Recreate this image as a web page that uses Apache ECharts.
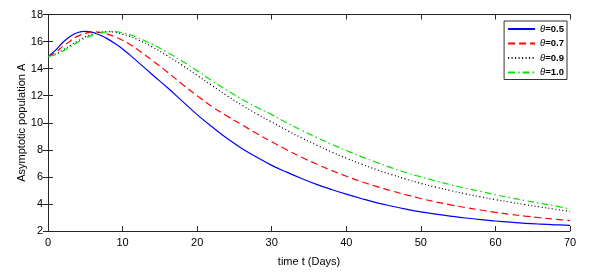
<!DOCTYPE html>
<html>
<head>
<meta charset="utf-8">
<script src="https://cdn.jsdelivr.net/npm/echarts@6/dist/echarts.min.js"></script>
<style>html,body{margin:0;padding:0;background:#fff}#c{width:604px;height:279px}</style>
</head>
<body>
<div id="c"></div>
<script>
const times = [0,1,2,3,4,5,6,7,8,9,10,11,12,14,16,18,20,22,24,26,28,30,32,34,36,38,40,42,44,46,48,50,52,54,56,58,60,62,64,66,68,70];
const theta05 = [14.9,15.35,15.95,16.4,16.67,16.75,16.68,16.47,16.2,15.85,15.45,15.0,14.52,13.55,12.6,11.6,10.6,9.7,8.85,8.1,7.45,6.85,6.35,5.88,5.45,5.07,4.72,4.4,4.1,3.85,3.62,3.42,3.25,3.1,2.96,2.84,2.74,2.65,2.57,2.51,2.46,2.42];
const theta07 = [14.9,15.2,15.65,16.05,16.4,16.6,16.72,16.68,16.55,16.35,16.1,15.78,15.42,14.6,13.75,12.85,12.0,11.2,10.5,9.85,9.2,8.6,8.0,7.45,6.95,6.48,6.05,5.65,5.3,4.98,4.68,4.4,4.15,3.93,3.73,3.55,3.38,3.23,3.1,2.98,2.87,2.77];
const theta09 = [14.9,15.08,15.38,15.72,16.05,16.35,16.56,16.7,16.74,16.68,16.55,16.37,16.15,15.6,14.95,14.25,13.5,12.75,12.0,11.3,10.65,10.05,9.45,8.88,8.35,7.85,7.38,6.95,6.55,6.18,5.84,5.52,5.24,4.98,4.74,4.52,4.32,4.13,3.95,3.78,3.61,3.45];
const theta10 = [14.9,15.02,15.3,15.62,15.95,16.25,16.48,16.64,16.72,16.73,16.65,16.5,16.3,15.8,15.2,14.55,13.85,13.1,12.4,11.75,11.15,10.6,10.0,9.45,8.92,8.42,7.95,7.5,7.08,6.68,6.32,6.0,5.7,5.42,5.16,4.92,4.68,4.46,4.25,4.05,3.85,3.62];
const seriesNames = ['θ=0.5','θ=0.7','θ=0.9','θ=1.0'];
const xTicks = [0,10,20,30,40,50,60,70];
const yTicks = [2,4,6,8,10,12,14,16,18];

const pairs = v => times.map((t,i)=>[t,v[i]]);
const font = 'Liberation Sans, Arial, sans-serif';
const axisCol = '#262626';
const chart = echarts.init(document.getElementById('c'));
const styles = [
  {color:'#0000ff', type:'solid'},
  {color:'#ff0000', type:[7,4]},
  {color:'#000000', type:[1,2.5]},
  {color:'#00e600', type:[7,3,1.5,3]}
];
const vals = [theta05,theta07,theta09,theta10];
chart.setOption({
  animation:false,
  grid:{left:48,right:34,top:14.5,bottom:48,containLabel:false},
  legend:{
    show:true,
    orient:'vertical', right:37, top:21, itemWidth:27, itemHeight:8, itemGap:4.5,
    backgroundColor:'#fff', borderColor:'#333', borderWidth:1, padding:[3,3,2,3],
    data: seriesNames,
    itemStyle:{opacity:0},
    formatter: n => '{i|θ}{b|' + n.slice(1) + '}',
    textStyle:{fontFamily:font, fontSize:9.5, color:'#000', lineHeight:10,
      rich:{i:{fontStyle:'italic',fontSize:9.5,lineHeight:10,fontFamily:font},b:{fontWeight:'bold',fontSize:9.5,lineHeight:10,fontFamily:font}}}
  },
  xAxis:[{
    type:'value', min:0, max:70, interval:10,
    name:'time t (Days)', nameLocation:'middle', nameGap:25,
    nameTextStyle:{fontFamily:font,fontSize:11,color:'#000'},
    axisLine:{show:true,lineStyle:{color:axisCol,width:1}},
    axisTick:{show:true,inside:true,length:5,lineStyle:{color:axisCol}},
    axisLabel:{fontFamily:font,fontSize:11,color:'#000',margin:6},
    splitLine:{show:false}
  },{
    type:'value', min:0, max:70, interval:10, position:'top',
    axisLine:{show:true,lineStyle:{color:axisCol,width:1}},
    axisTick:{show:true,inside:true,length:5,lineStyle:{color:axisCol}},
    axisLabel:{show:false}, splitLine:{show:false}
  }],
  yAxis:[{
    type:'value', min:2, max:18, interval:2,
    name:'Asymptotic population A', nameLocation:'middle', nameGap:21, nameMoveOverlap:false,
    nameTextStyle:{fontFamily:font,fontSize:11,color:'#000'},
    axisLine:{show:true,lineStyle:{color:axisCol,width:1}},
    axisTick:{show:true,inside:true,length:5,lineStyle:{color:axisCol}},
    axisLabel:{fontFamily:font,fontSize:11,color:'#000',margin:5},
    splitLine:{show:false}
  },{
    type:'value', min:2, max:18, interval:2, position:'right',
    axisLine:{show:true,lineStyle:{color:axisCol,width:1}},
    axisTick:{show:true,inside:true,length:5,lineStyle:{color:axisCol}},
    axisLabel:{show:false}, splitLine:{show:false}
  }],
  series: vals.map((v,i)=>({
    name:seriesNames[i], type:'line', data:pairs(v), smooth:0.4,
    showSymbol:false, symbol:'none', xAxisIndex:0, yAxisIndex:0,
    lineStyle:{color:styles[i].color, width:1.2, type:styles[i].type},
    itemStyle:{color:styles[i].color}
  }))
});
</script>
</body>
</html>
